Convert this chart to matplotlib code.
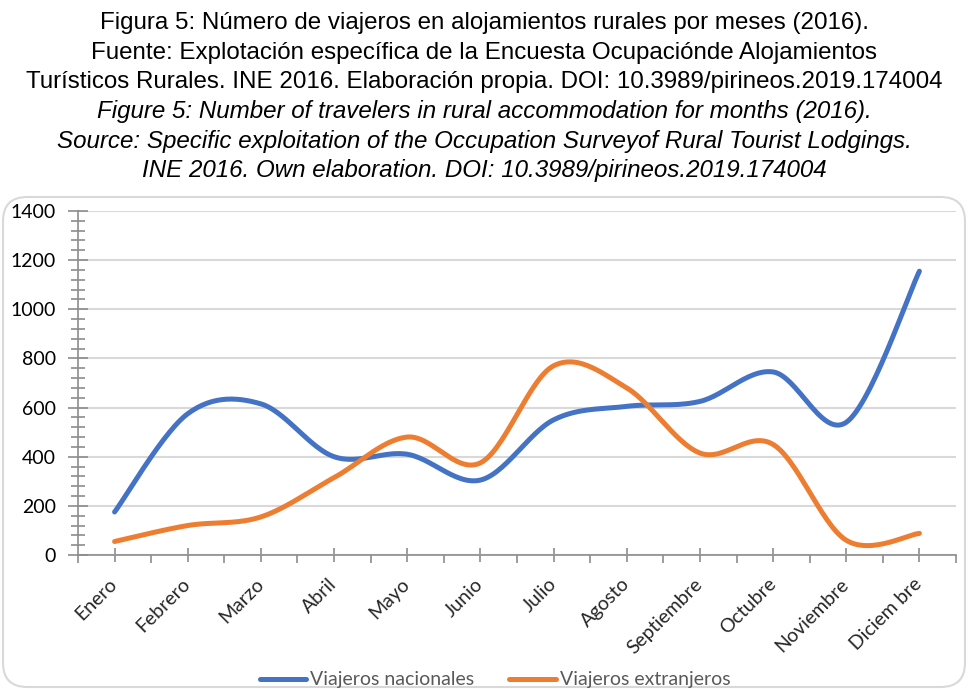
"""
Viajeros en alojamientos rurales por meses (2016).
"""

import numpy as np
import matplotlib.pyplot as plt
from matplotlib.patches import FancyBboxPatch
from matplotlib.ticker import MultipleLocator, FixedLocator

meses = [
    "Enero", "Febrero", "Marzo", "Abril", "Mayo", "Junio",
    "Julio", "Agosto", "Septiembre", "Octubre", "Noviembre", "Diciem bre",
]

nacionales = [175, 575, 615, 400, 410, 305, 550, 605, 625, 745, 540, 1155]
extranjeros = [55, 120, 155, 315, 480, 375, 770, 680, 415, 450, 60, 88]

titulo = [
    ("Figura 5: Número de viajeros en alojamientos rurales por meses (2016).", "normal"),
    ("Fuente: Explotación específica de la Encuesta Ocupaciónde Alojamientos", "normal"),
    ("Turísticos Rurales. INE 2016. Elaboración propia. DOI: 10.3989/pirineos.2019.174004", "normal"),
    ("Figure 5: Number of travelers in rural accommodation for months (2016).", "italic"),
    ("Source: Specific exploitation of the Occupation Surveyof Rural Tourist Lodgings.", "italic"),
    ("INE 2016. Own elaboration. DOI: 10.3989/pirineos.2019.174004", "italic"),
]


def suavizar(y, pasos=30):
    """Curva suavizada tipo Catmull-Rom, como las líneas suavizadas de Excel."""
    y = np.asarray(y, dtype=float)
    x = np.arange(len(y), dtype=float)
    px = np.concatenate(([x[0]], x, [x[-1]]))
    py = np.concatenate(([y[0]], y, [y[-1]]))
    xs, ys = [], []
    t = np.linspace(0, 1, pasos, endpoint=False)
    for i in range(1, len(px) - 2):
        for p, out in ((px, xs), (py, ys)):
            p0, p1, p2, p3 = p[i - 1], p[i], p[i + 1], p[i + 2]
            out.extend(0.5 * ((2 * p1) + (-p0 + p2) * t
                              + (2 * p0 - 5 * p1 + 4 * p2 - p3) * t ** 2
                              + (-p0 + 3 * p1 - 3 * p2 + p3) * t ** 3))
    xs.append(x[-1])
    ys.append(y[-1])
    return np.array(xs), np.array(ys)


fig = plt.figure(figsize=(9.69, 6.89), dpi=100)

# títulos
for i, (linea, estilo) in enumerate(titulo):
    fig.text(0.4995, 1 - (23 + i * 29.6) / 689, linea, ha="center", va="center",
             fontsize=17.4, family="Liberation Sans", style=estilo, color="black")

# marco redondeado del gráfico
marco = FancyBboxPatch((3 / 969, 2 / 689), 962 / 969, 490 / 689,
                       boxstyle="round,pad=0,rounding_size=0.025",
                       transform=fig.transFigure, facecolor="white",
                       edgecolor="#d9d9d9", linewidth=1.5, mutation_aspect=969 / 689,
                       zorder=-10)
fig.patches.append(marco)

ax = fig.add_axes([78 / 969, 1 - 555 / 689, (956 - 78) / 969, (555 - 211) / 689])
ax.set_facecolor("none")

xb, yb = suavizar(nacionales)
ax.plot(xb, yb, color="#4472C4", linewidth=3.6, solid_capstyle="round",
        label="Viajeros nacionales")
xo, yo = suavizar(extranjeros)
ax.plot(xo, yo, color="#ED7D31", linewidth=3.6, solid_capstyle="round",
        label="Viajeros extranjeros")

ax.set_xlim(-0.5, 11.5)
ax.set_ylim(0, 1400)

ax.yaxis.set_major_locator(MultipleLocator(200))
ax.yaxis.set_minor_locator(MultipleLocator(40))
ax.grid(axis="y", which="major", color="#d9d9d9", linewidth=1.5)
ax.set_axisbelow(True)

ax.set_xticks(range(len(meses)))
ax.set_xticklabels(meses, rotation=45, ha="right", va="center",
                   rotation_mode="anchor", fontsize=14, family="Lato",
                   color="#262626")
ax.xaxis.set_minor_locator(FixedLocator(np.arange(-0.5, 12, 1)))

for lab in ax.get_yticklabels():
    lab.set_family("Lato")
ax.tick_params(axis="y", which="major", direction="inout", length=14, width=1.2,
               color="#8c8c8c", labelsize=14, pad=9, labelcolor="black")
ax.tick_params(axis="y", which="minor", direction="inout", length=10, width=1.2,
               color="#8c8c8c")
ax.tick_params(axis="x", which="major", direction="inout", length=10, width=1.2,
               color="#8c8c8c", pad=14)
ax.tick_params(axis="x", which="minor", direction="out", length=6, width=1.2,
               color="#8c8c8c")

for lado in ("top", "right"):
    ax.spines[lado].set_visible(False)
for lado in ("left", "bottom"):
    ax.spines[lado].set_color("#8c8c8c")
    ax.spines[lado].set_linewidth(1.2)

fig.legend(loc="center", bbox_to_anchor=(495 / 969, 9 / 689), ncol=2, frameon=False,
           prop={"family": "Lato", "size": 14}, labelcolor="#595959",
           handlelength=2.4, columnspacing=1.8, handletextpad=0.2)

fig.savefig("out.png", dpi=100)
plt.close(fig)
